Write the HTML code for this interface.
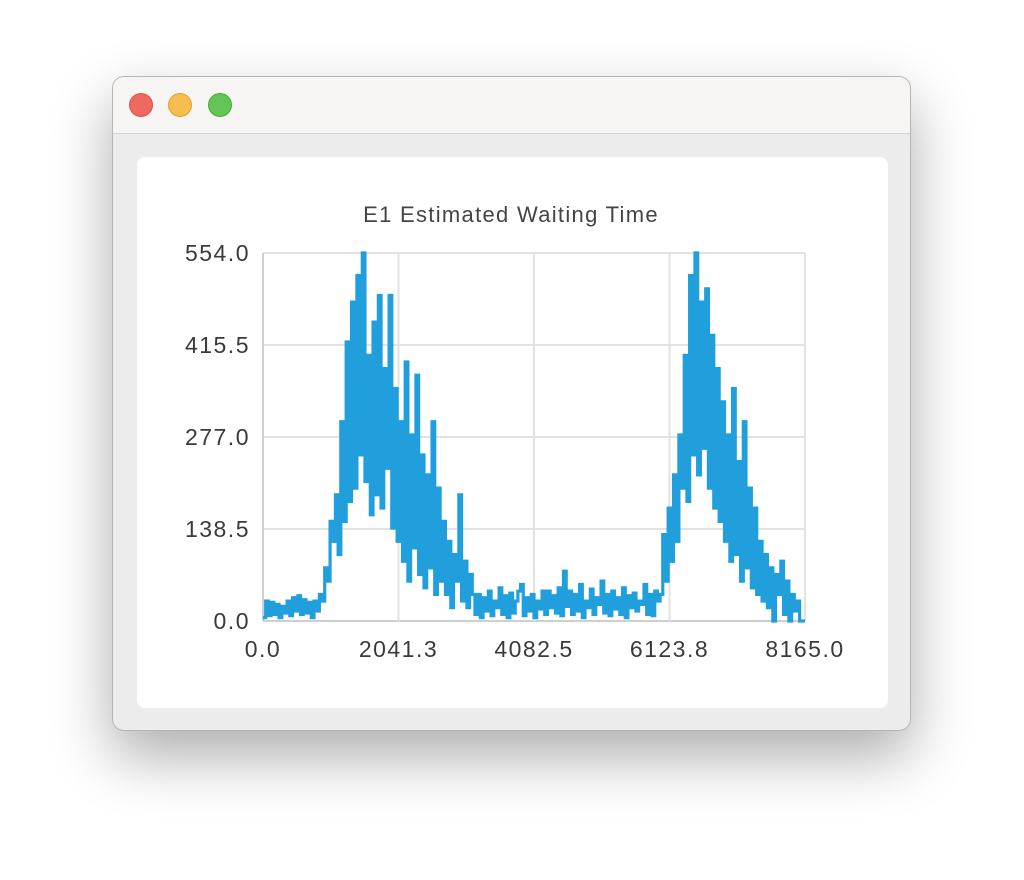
<!DOCTYPE html>
<html><head><meta charset="utf-8"><style>
body{margin:0;width:1024px;height:880px;background:#fff;font-family:"Liberation Sans",sans-serif;}
#win{position:absolute;left:112px;top:76px;width:799px;height:655px;border-radius:12px;background:#ececec;box-shadow:0 25px 60px rgba(0,0,0,0.33);border:1px solid #b5b5b5;box-sizing:border-box;overflow:hidden}
#bar{height:56px;background:#f6f5f4;border-bottom:1px solid #d4d4d4}
.dot{position:absolute;top:16px;width:24px;height:24px;border-radius:50%;box-sizing:border-box}
#card{position:absolute;left:24px;top:80px;width:751px;height:551px;background:#fff;border-radius:8px}
</style></head><body>
<div id="win">
<div id="bar"></div>
<div class="dot" style="left:16px;background:#ee6a5e;border:1px solid #d5544a"></div>
<div class="dot" style="left:55px;background:#f5be4f;border:1px solid #d9a23a"></div>
<div class="dot" style="left:95px;background:#62c554;border:1px solid #4ea93f"></div>
<div id="card"></div>
</div>
<svg id="chart" width="1024" height="880" style="position:absolute;left:0;top:0"></svg>
<script>
const yTicks=["0.0","138.5","277.0","415.5","554.0"];
const xTicks=["0.0","2041.3","4082.5","6123.8","8165.0"];
const xMax=8165, yMax=554;
const values=[5,30,8,28,10,25,5,22,12,30,8,35,15,38,10,32,12,28,5,30,
15,40,30,80,60,150,
120,190,100,300,150,420,180,480,200,520,250,554,210,400,160,450,190,490,170,380,230,490,140,
350,120,300,90,390,60,280,110,370,70,250,50,220,80,300,40,200,60,150,
40,120,20,100,60,190,30,90,20,70,40,
10,40,5,35,15,45,8,30,20,50,
10,38,5,42,12,30,45,55,8,35,
15,40,5,30,18,45,10,45,20,38,
12,50,8,75,22,45,10,40,15,55,
5,30,20,48,10,35,25,60,12,40,
8,45,18,35,10,50,5,38,20,42,
15,30,25,55,10,40,8,45,30,
40,130,60,170,90,220,120,280,
200,400,180,520,250,554,220,480,260,500,200,430,170,380,150,
330,120,280,90,350,100,240,60,300,80,200,50,170,40,120,
30,100,20,80,0,70,40,90,10,60,0,40,15,30,0,
0,0];
const L=263,R=805,T=253,B=621;
const sx=v=>L+v/xMax*(R-L), sy=v=>B-v/yMax*(B-T);
const svg=document.getElementById('chart');const NS='http://www.w3.org/2000/svg';
function mk(t,a,p){const e=document.createElementNS(NS,t);for(const k in a)e.setAttribute(k,a[k]);(p||svg).appendChild(e);return e;}
yTicks.forEach((t,i)=>{const y=sy(yMax*i/(yTicks.length-1));
const g=mk('line',{x1:L,x2:R,y1:y,y2:y,stroke:i==0?'#cfcfcf':'#e2e2e2','stroke-width':2});


const tx=mk('text',{x:250,y:y+8,'text-anchor':'end','font-size':23,'letter-spacing':1.5,fill:'#3a3a3a'});tx.textContent=t;

});
xTicks.forEach((t,i)=>{const x=sx(xMax*i/(xTicks.length-1));
const g=mk('line',{x1:x,x2:x,y1:T,y2:B,stroke:i==0?'#cfcfcf':'#e2e2e2','stroke-width':2});


const tx=mk('text',{x:x,y:657,'text-anchor':'middle','font-size':23,'letter-spacing':1.5,fill:'#3a3a3a'});tx.textContent=t;

});
const n=values.length;
let d='M'+sx(0).toFixed(2)+' '+sy(values[0]).toFixed(2);
values.forEach((v,i)=>{if(i){d+=' H'+sx(xMax*i/(n-1)).toFixed(2)+' V'+sy(v).toFixed(2);}});
const p=mk('path',{d:d,fill:'none',stroke:'#219fdd','stroke-width':3.2,'stroke-linejoin':'miter'});


const ti=mk('text',{x:511,y:222,'text-anchor':'middle','font-size':22,'letter-spacing':1.3,fill:'#444'});ti.textContent='E1 Estimated Waiting Time';


</script>
</body></html>
